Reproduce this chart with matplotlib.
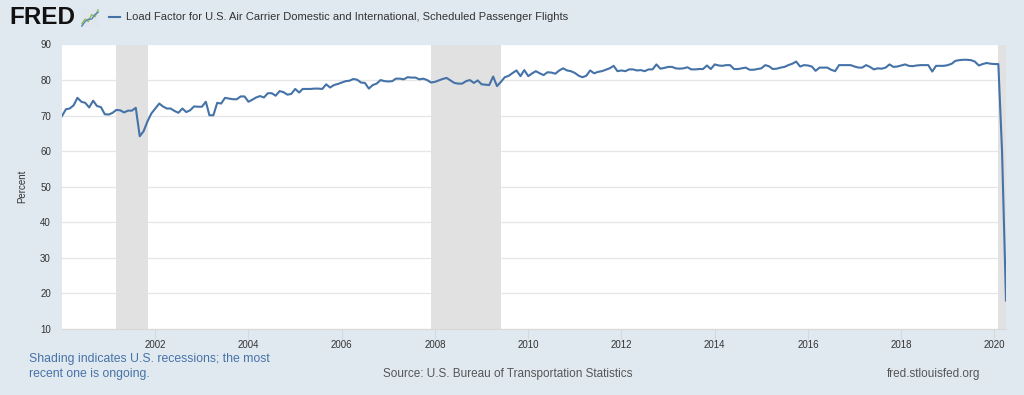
import numpy as np
import pandas as pd
import matplotlib
matplotlib.use('Agg')
import matplotlib.pyplot as plt

plt.rcParams['font.family'] = ['Liberation Sans', 'DejaVu Sans']

# monthly load factor, percent, 2000-01 .. 2020-04
load_2000_2003 = [69.9, 71.8, 72.0, 72.9, 75.0, 73.9, 73.6, 72.3, 74.2, 72.7, 72.4, 70.4,
                  70.3, 70.8, 71.6, 71.5, 70.9, 71.4, 71.4, 72.2, 64.2, 65.6, 68.4, 70.6,
                  72.0, 73.4, 72.6, 72.0, 72.0, 71.3, 70.8, 72.0, 71.0, 71.5, 72.6, 72.5,
                  72.5, 73.9, 70.1, 70.1, 73.6]
load_2003_2006 = [73.4, 75.0, 74.8, 74.6, 74.6, 75.4, 75.4, 73.9, 74.5, 75.1, 75.5, 75.1,
                  76.3, 76.3, 75.6, 76.9, 76.6, 75.9, 76.1, 77.5, 76.5, 77.5, 77.5, 77.5,
                  77.6, 77.6, 77.5, 78.8, 77.9, 78.6, 78.9, 79.3, 79.7, 79.8, 80.3, 80.1,
                  79.3, 79.2, 77.6, 78.6, 79.0]
load_2006_2010 = [80.0, 79.7, 79.6, 79.7, 80.4, 80.4, 80.2, 80.8, 80.7, 80.7, 80.2, 80.4,
                  80.0, 79.3, 79.5, 79.9, 80.3, 80.6, 79.9, 79.2, 79.0, 79.0, 79.7, 80.0,
                  79.2, 79.9, 78.8, 78.7, 78.6, 81.0, 78.3, 79.5, 80.8, 81.2, 82.0, 82.7,
                  81.1, 82.8, 81.1, 81.9, 82.5]
load_2010_2013 = [81.9, 81.4, 82.2, 82.1, 81.8, 82.7, 83.3, 82.7, 82.5, 82.0, 81.2, 80.8,
                  81.2, 82.7, 81.9, 82.3, 82.5, 82.9, 83.3, 84.0, 82.5, 82.7, 82.5, 83.0,
                  83.0, 82.7, 82.8, 82.5, 83.0, 83.0, 84.4, 83.2, 83.4, 83.7, 83.7, 83.3,
                  83.2, 83.3, 83.6, 83.0, 83.0]
load_2013_2017 = [83.1, 83.1, 84.1, 83.1, 84.4, 84.1, 84.0, 84.2, 84.2, 83.1, 83.1, 83.3,
                  83.5, 82.9, 82.9, 83.1, 83.3, 84.2, 83.9, 83.1, 83.2, 83.5, 83.7, 84.2,
                  84.6, 85.2, 83.8, 84.2, 84.1, 83.8, 82.6, 83.5, 83.5, 83.5, 82.9, 82.5,
                  84.2, 84.2, 84.2, 84.2, 83.8]
load_2017_2020 = [83.5, 83.5, 84.2, 83.7, 83.0, 83.3, 83.2, 83.5, 84.4, 83.7, 83.8, 84.1,
                  84.4, 84.0, 83.9, 84.1, 84.2, 84.2, 84.2, 82.4, 84.0, 84.0, 84.0, 84.2,
                  84.6, 85.4, 85.6, 85.7, 85.7, 85.6, 85.2, 84.1, 84.5, 84.8, 84.6, 84.5,
                  84.5, 60.0, 18.0]

recession_start = ['2001-03-01', '2007-12-01', '2020-02-01']
recession_end = ['2001-11-01', '2009-06-01', '2020-04-01']

year_ticks = ['2002', '2004', '2006', '2008', '2010', '2012', '2014', '2016', '2018', '2020']
y_ticks = [10, 20, 30, 40, 50, 60, 70, 80, 90]

# little FRED logo chart
icon_a = [1, 3, 2, 5, 4, 7]
icon_b = [0, 2, 3, 3, 5, 6]

values = load_2000_2003 + load_2003_2006 + load_2006_2010 + load_2010_2013 + load_2013_2017 + load_2017_2020
dates = pd.date_range('2000-01-01', periods=len(values), freq='MS')

bg = '#e1e9f0'
line_color = '#4572a7'

fig = plt.figure(figsize=(10.24, 3.95), dpi=100, facecolor=bg)
ax = fig.add_axes([62 / 1024, 1 - 329 / 395, (1006 - 62) / 1024, (329 - 44.5) / 395])
ax.set_facecolor('white')

for s, e in zip(recession_start, recession_end):
    ax.axvspan(pd.Timestamp(s), pd.Timestamp(e), color='#e1e1e1', lw=0, zorder=1)

ax.plot(dates, values, color=line_color, lw=1.5, zorder=3)

ax.set_xlim(dates[0], dates[-1])
ax.set_ylim(10, 90)
ax.set_yticks(y_ticks)
ax.set_xticks([pd.Timestamp(y + '-01-01') for y in year_ticks])
ax.set_xticklabels(year_ticks)
ax.grid(axis='y', color='#e6e6e6', lw=0.9, zorder=0)
ax.set_axisbelow(True)
for sp in ['top', 'right', 'left']:
    ax.spines[sp].set_visible(False)
ax.spines['bottom'].set_color('#d8d8d8')
ax.tick_params(axis='y', length=0, labelsize=7, labelcolor='#333333', pad=8)
ax.tick_params(axis='x', length=7, width=0.8, color='#d8d8d8', labelsize=7, labelcolor='#333333', pad=1)
ax.set_ylabel('Percent', fontsize=7, color='#333333', labelpad=9)

# header
fig.text(9 / 1024, 1 - 18 / 395, 'FRED', fontsize=17.5, fontweight='bold', color='#111111', va='center', ha='left')
icon = fig.add_axes([81 / 1024, 1 - 27 / 395, 18 / 1024, 18 / 395])
icon.set_facecolor('#dfe6ee')
icon.plot(icon_a, color='#8fbf5a', lw=1)
icon.plot(icon_b, color='#5b86b5', lw=1)
icon.set_xticks([])
icon.set_yticks([])
for sp in icon.spines.values():
    sp.set_visible(False)
fig.lines.append(plt.Line2D([109 / 1024, 120 / 1024], [1 - 17 / 395, 1 - 17 / 395],
                            transform=fig.transFigure, color=line_color, lw=1.5))
fig.text(126 / 1024, 1 - 17 / 395,
         'Load Factor for U.S. Air Carrier Domestic and International, Scheduled Passenger Flights',
         fontsize=8, color='#333333', va='center', ha='left')

# footer
fig.text(29 / 1024, 1 - 359 / 395, 'Shading indicates U.S. recessions; the most',
         fontsize=8.8, color='#4572a7', va='center', ha='left')
fig.text(29 / 1024, 1 - 374 / 395, 'recent one is ongoing.',
         fontsize=8.8, color='#4572a7', va='center', ha='left')
fig.text(508 / 1024, 1 - 374 / 395, 'Source: U.S. Bureau of Transportation Statistics',
         fontsize=8.5, color='#555555', va='center', ha='center')
fig.text(980 / 1024, 1 - 374 / 395, 'fred.stlouisfed.org',
         fontsize=8.5, color='#555555', va='center', ha='right')

fig.savefig('out.png', dpi=100, facecolor=bg)
